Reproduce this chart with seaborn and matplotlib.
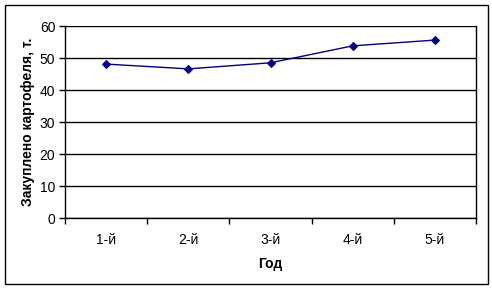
import matplotlib
matplotlib.use("Agg")
import matplotlib.pyplot as plt
import seaborn as sns
import pandas as pd
import numpy as np
from matplotlib.patches import Rectangle

years = ["1-й", "2-й", "3-й", "4-й", "5-й"]
values = [48.1, 46.6, 48.5, 53.8, 55.6]
y_ticks = [0, 10, 20, 30, 40, 50, 60]

sns.set_style("white")
plt.rcParams['font.family'] = ['Liberation Sans', 'DejaVu Sans']
plt.rcParams['text.color'] = 'black'
plt.rcParams['axes.labelcolor'] = 'black'
plt.rcParams['xtick.color'] = 'black'
plt.rcParams['ytick.color'] = 'black'

df = pd.DataFrame({"Год": years, "val": values})
df["pos"] = np.arange(len(years))

fig = plt.figure(figsize=(4.92, 2.89), dpi=100)
ax = fig.add_axes([65/492, 1-218/289, (476-65)/492, (218-26)/289])

sns.lineplot(data=df, x="pos", y="val", ax=ax, color="#000080", linewidth=1.0,
             marker="D", markersize=4, markeredgecolor="#000080", markerfacecolor="#000080")

ax.set_xlim(-0.5, len(years) - 0.5)
ax.set_ylim(0, 60)
ax.set_yticks(y_ticks)
ax.set_yticklabels([str(t) for t in y_ticks], fontsize=10)
ax.set_xticks(df["pos"])
ax.set_xticklabels(years, fontsize=10)
ax.set_xticks(np.arange(-0.5, len(years)), minor=True)
ax.tick_params(axis="x", which="major", bottom=True, length=0, pad=11)
ax.tick_params(axis="x", which="minor", bottom=True, length=4, width=1, direction="out", color="black")
ax.tick_params(axis="y", which="major", left=True, length=4, width=1, direction="out", color="black", pad=3)

ax.yaxis.grid(True, color="black", linewidth=1)
ax.xaxis.grid(False)
ax.set_axisbelow(True)
for s in ["left", "bottom", "right"]:
    ax.spines[s].set_visible(True)
    ax.spines[s].set_color("black")
    ax.spines[s].set_linewidth(1)
ax.spines["top"].set_visible(False)

ax.set_xlabel("Год", fontsize=10, fontweight="bold", labelpad=7)
ax.set_ylabel("Закуплено картофеля, т.", fontsize=10, fontweight="bold", labelpad=3)

fig.patches.append(Rectangle((5/492, 5/289), 483/492, 279/289, transform=fig.transFigure,
                             fill=False, edgecolor="black", linewidth=1))

fig.savefig("out.png", dpi=100)
